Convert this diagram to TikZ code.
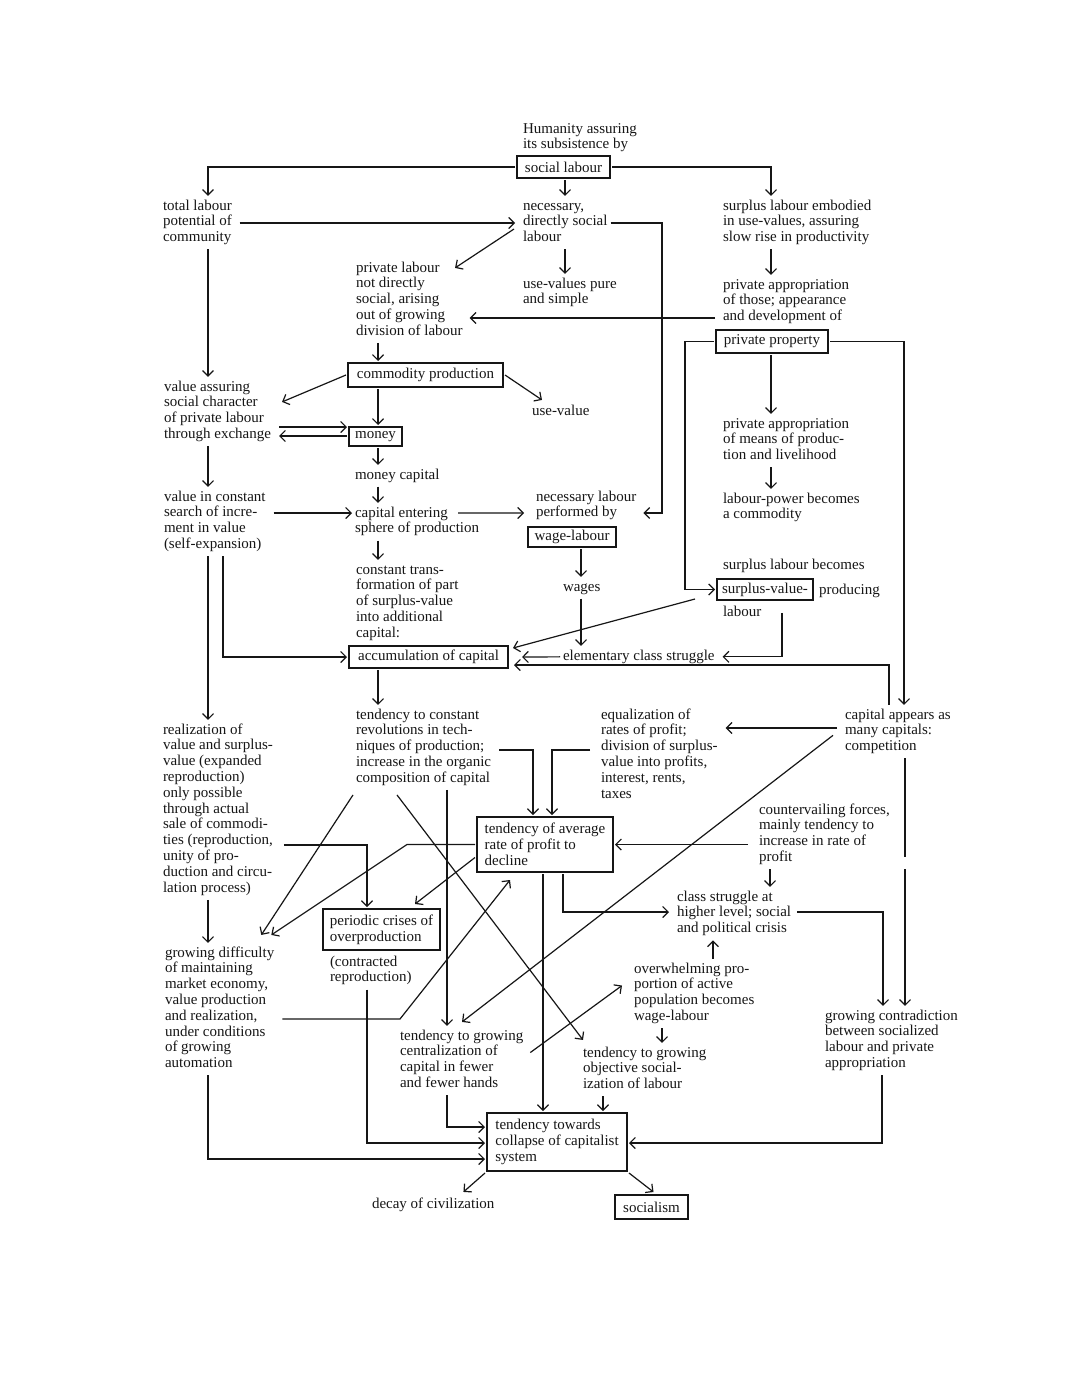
\documentclass[tikz,border=0pt]{standalone}
\usepackage{fontspec}
\setmainfont{Liberation Serif}
\usetikzlibrary{arrows.meta,calc}
\definecolor{ink}{RGB}{22,22,22}
\newcommand{\TX}[4]{\node[txt] (#1) at ({#2-3},{#3-14.06}) {\strut#4\strut};}
\newcommand{\BX}[6]{\node[box, minimum width=#4pt, minimum height=#5pt] (#1) at ({#2-2},{#3-2}) {#6};}
\begin{document}
\begin{tikzpicture}[x=1pt,y=-1pt,color=ink,
  txt/.style={anchor=north west, inner sep=0pt, outer sep=3pt, align=left, font=\fontsize{15}{15.8}\selectfont},
  box/.style={draw=ink, line width=1.2pt, anchor=north west, inner xsep=4pt, inner ysep=2pt, outer sep=2pt, align=left, font=\fontsize{15}{15.8}\selectfont},
  ln/.style={draw=ink, line width=1.2pt},
  arr/.style={ln, -{Straight Barb[length=5.5pt,width=11pt,line width=1.2pt]}}]
\useasboundingbox (0,0) rectangle (1080,1397);
\fill[white] (0,0) rectangle (1080,1397);

% ---------- text nodes ----------
\TX{hum}{523}{133}{Humanity assuring\\its subsistence by}
\TX{total}{163}{210}{total labour\\potential of\\community}
\TX{nec}{523}{210}{necessary,\\directly social\\labour}
\TX{surp}{723}{210}{surplus labour embodied\\in use-values, assuring\\slow rise in productivity}
\TX{priv}{356}{272}{private labour\\not directly\\social, arising\\out of growing\\division of labour}
\TX{usev}{523}{288}{use-values pure\\and simple}
\TX{privapp}{723}{289}{private appropriation\\of those; appearance\\and development of}
\TX{valass}{164}{391}{value assuring\\social character\\of private labour\\through exchange}
\TX{usevalue}{532}{415}{use-value}
\TX{privmeans}{723}{428}{private appropriation\\of means of produc-\\tion and livelihood}
\TX{mcap}{355}{479}{money capital}
\TX{valconst}{164}{501}{value in constant\\search of incre-\\ment in value\\(self-expansion)}
\TX{neclab}{536}{501}{necessary labour\\performed by}
\TX{lpower}{723}{503}{labour-power becomes\\a commodity}
\TX{capent}{355}{517}{capital entering\\sphere of production}
\TX{slb}{723}{569}{surplus labour becomes}
\TX{ctrans}{356}{574}{constant trans-\\formation of part\\of surplus-value\\into additional\\capital:}
\TX{wages}{563}{591}{wages}
\TX{producing}{819}{594}{producing}
\TX{slabour}{723}{616}{labour}
\TX{ecs}{563}{660}{elementary class struggle}
\TX{tconst}{356}{719}{tendency to constant\\revolutions in tech-\\niques of production;\\increase in the organic\\composition of capital}
\TX{equal}{601}{719}{equalization of\\rates of profit;\\division of surplus-\\value into profits,\\interest, rents,\\taxes}
\TX{capapp}{845}{719}{capital appears as\\many capitals:\\competition}
\TX{real}{163}{734}{realization of\\value and surplus-\\value (expanded\\reproduction)\\only possible\\through actual\\sale of commodi-\\ties (reproduction,\\unity of pro-\\duction and circu-\\lation process)}
\TX{counter}{759}{814}{countervailing forces,\\mainly tendency to\\increase in rate of\\profit}
\TX{cls}{677}{901}{class struggle at\\higher level; social\\and political crisis}
\TX{growdiff}{165}{957}{growing difficulty\\of maintaining\\market economy,\\value production\\and realization,\\under conditions\\of growing\\automation}
\TX{contr}{330}{966}{(contracted\\reproduction)}
\TX{overw}{634}{973}{overwhelming pro-\\portion of active\\population becomes\\wage-labour}
\TX{growcon}{825}{1020}{growing contradiction\\between socialized\\labour and private\\appropriation}
\TX{centr}{400}{1040}{tendency to growing\\centralization of\\capital in fewer\\and fewer hands}
\TX{objsoc}{583}{1057}{tendency to growing\\objective social-\\ization of labour}
\TX{decay}{372}{1208}{decay of civilization}

% ---------- boxed nodes ----------
\BX{social}{517}{156}{93}{22}{social labour}
\BX{privprop}{716}{330}{112}{23}{private property}
\BX{commod}{348}{363}{155}{24}{commodity production}
\BX{money}{349}{427}{53}{19}{money}
\BX{wagelab}{528}{527}{88}{20}{wage-labour}
\BX{svbox}{717}{579}{96}{21}{surplus-value-}
\BX{accum}{349}{646}{159}{22}{accumulation of capital}
\BX{tavg}{477}{817}{136}{55}{tendency of average\\rate of profit to\\decline}
\BX{crises}{323}{909}{117}{41}{periodic crises of\\overproduction}
\BX{collapse}{487}{1113}{140}{58}{tendency towards\\collapse of capitalist\\system}
\BX{socialism}{615}{1195}{73}{24}{socialism}

% ---------- connectors ----------
\draw[arr] (social.west) -| (208,0 |- total.north);
\draw[arr] (social.east) -| (771,0 |- surp.north);
\draw[arr] (565,0 |- social.south) -- (565,0 |- nec.north);
\draw[arr] ($(total.east |- 0,223)+(5,0)$) -- ($(nec.west |- 0,223)+(-5,0)$);
\draw[arr] (nec.east |- 0,223) -| (662,513) -- ($(neclab.east |- 0,513)+(4,0)$);
\draw[arr] ($(nec.west |- 0,229)+(-6,0)$) -- ($(priv.north west)+(102,10)$);
\draw[arr] (565,0 |- nec.south) -- (565,0 |- usev.north);
\draw[arr] (771,0 |- surp.south) -- (771,0 |- privapp.north);
\draw[arr] ($(privapp.west |- 0,318)+(-5,0)$) -- ($(priv.east |- 0,318)+(4,0)$);
\draw[arr] (privprop.west) -| (685,0 |- svbox.west) -- (svbox.west);
\draw[arr] (privprop.east) -| (904,0 |- capapp.north);
\draw[arr] (771,0 |- privprop.south) -- (771,0 |- privmeans.north);
\draw[arr] (378,0 |- priv.south) -- (378,0 |- commod.north);
\draw[arr] (commod.west) -- ($(valass.north east)+(8,25)$);
\draw[arr] (commod.east) -- ($(usevalue.north west)+(13,-1)$);
\draw[arr] (378,0 |- commod.south) -- (378,0 |- money.north);
\draw[arr] ($(valass.east |- 0,427)+(5,0)$) -- (money.west |- 0,427);
\draw[arr] (money.west |- 0,436) -- ($(valass.east |- 0,436)+(5,0)$);
\draw[arr] (378,0 |- money.south) -- (378,0 |- mcap.north);
\draw[arr] (378,0 |- mcap.south) -- (378,0 |- capent.north);
\draw[arr] (208,0 |- total.south) -- (208,0 |- valass.north);
\draw[arr] (208,0 |- valass.south) -- (208,0 |- valconst.north);
\draw[arr] ($(valconst.east |- 0,513)+(5,0)$) -- (capent.west |- 0,513);
\draw[arr] ($(capent.north west)+(106,10)$) -- ($(neclab.west |- 0,513)+(-9,0)$);
\draw[arr] (771,0 |- privmeans.south) -- (771,0 |- lpower.north);
\draw[arr] (581,0 |- wagelab.south) -- (581,0 |- wages.north);
\draw[arr] (581,0 |- wages.south) -- (581,0 |- ecs.north);
\draw[arr] (378,0 |- capent.south) -- (378,0 |- ctrans.north);
\draw[arr] ($(svbox.south west)+(-20,-3)$) -- ($(accum.east)+(3,-9)$);
\draw[arr] (782,0 |- slabour.center) |- ($(ecs.east)+(5,0)$);
\draw[arr] (ecs.west) -- ($(accum.east)+(12,0)$);
\draw[arr] (889,0 |- capapp.north) |- ($(accum.east)+(4,8)$);
\draw[arr] (223,0 |- valconst.south) |- (accum.west);
\draw[arr] (208,0 |- valconst.south) -- (208,0 |- real.north);
\draw[arr] (378,0 |- accum.south) -- (378,0 |- tconst.north);
\draw[arr] ($(capapp.west |- 0,728)+(-5,0)$) -- ($(equal.east |- 0,728)+(5,0)$);
\draw[arr] ($(tconst.east |- 0,750)+(5,0)$) -| (533,0 |- tavg.north);
\draw[arr] ($(equal.west |- 0,750)+(-8,0)$) -| (552,0 |- tavg.north);
\draw[arr] ($(counter.west |- tavg.east)+(-8,0)$) -- (tavg.east);
\draw[arr] (905,0 |- capapp.south) -- (905,857) (905,869) -- (905,0 |- growcon.north);
\draw[arr] (770,0 |- counter.south) -- (770,0 |- cls.north);
\draw[arr] (563,0 |- tavg.south) |- ($(cls.west |- 0,912)+(-5,0)$);
\draw[arr] ($(cls.east |- 0,912)+(3,0)$) -| (883,0 |- growcon.north);
\draw[arr] (713,0 |- overw.north) -- (713,0 |- cls.south);
\draw[arr] (662,0 |- overw.south) -- (662,0 |- objsoc.north);
\draw[arr] (208,0 |- real.south) -- (208,0 |- growdiff.north);
\draw[arr] ($(real.east |- 0,845)+(8,0)$) -| (367,0 |- crises.north);
\draw[arr] (tavg.west) -- (407,0 |- tavg.west) -- ($(growdiff.north east)+(-6,-8)$);
\draw[arr] ($(tconst.south west)+(0,5)$) -- ($(growdiff.north east)+(-16,-8)$);
\draw[arr] ($(tconst.south west)+(44,5)$) -- ($(objsoc.north west)+(3,-3)$);
\draw[arr] (447,0 |- tconst.south) -- (447,0 |- centr.north);
\draw[arr] ($(tavg.west)+(0,13)$) -- ($(crises.north east)+(-27,-3)$);
\draw[arr] ($(growdiff.east |- 0,1019)+(5,0)$) -- (400,1019) -- ($(tavg.south)+(-35,6)$);
\draw[arr] ($(capapp.south west)+(-9,-23)$) -- ($(centr.north west)+(65,-4)$);
\draw[arr] ($(centr.east)+(4,-8)$) -- ($(overw.west)+(-9,-8)$);
\draw[arr] (543,0 |- tavg.south) -- (543,0 |- collapse.north);
\draw[arr] (603,0 |- objsoc.south) -- (603,0 |- collapse.north);
\draw[arr] (447,0 |- centr.south) |- (collapse.west |- 0,1127);
\draw[arr] (367,0 |- contr.south) |- (collapse.west |- 0,1143);
\draw[arr] (208,0 |- growdiff.south) |- (collapse.west |- 0,1159);
\draw[arr] (882,0 |- growcon.south) |- (collapse.east |- 0,1143);
\draw[arr] (collapse.south west) -- ($(decay.north east)+(-34,-2)$);
\draw[arr] (collapse.south east) -- ($(socialism.north)+(2,-1)$);
\end{tikzpicture}
\end{document}
